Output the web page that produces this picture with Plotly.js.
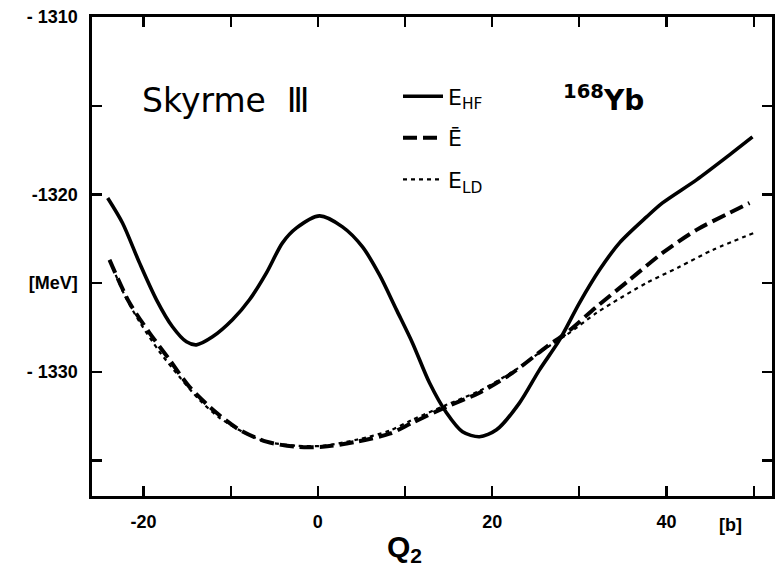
<!DOCTYPE html>
<html>
<head>
<meta charset="utf-8">
<script src="https://cdn.plot.ly/plotly-3.0.1.min.js"></script>
<style>
  html, body { margin: 0; padding: 0; background: #ffffff; }
  #chart { width: 775px; height: 569px; }
</style>
</head>
<body>
<div id="chart"></div>
<script>
// Quadrupole moment Q2 [b] and energies [MeV] for 168Yb, Skyrme III
const qHF = [-24.1, -22.4, -20.45, -18.5, -16.67, -15.06, -13.92, -12.08, -9.79, -7.84, -5.89, -4.05, -2.44, 0.2, 2.83, 5.13, 7.08, 9.03, 10.86, 12.81, 14.76, 16.6, 18.55, 20.5, 23.14, 25.43, 27.73, 30.02, 32.32, 34.61, 37.71, 39.54, 43.44, 47.23, 49.86];
const eHF = [-1320.2, -1321.61, -1323.86, -1325.94, -1327.46, -1328.31, -1328.48, -1328.03, -1327.07, -1325.94, -1324.42, -1322.73, -1321.89, -1321.21, -1321.83, -1322.96, -1324.54, -1326.51, -1328.37, -1330.62, -1332.31, -1333.38, -1333.66, -1333.27, -1331.75, -1329.89, -1328.2, -1326.11, -1324.25, -1322.73, -1321.27, -1320.48, -1319.18, -1317.77, -1316.76];

const qBar = [-23.89, -21.6, -19.31, -17.01, -14.72, -11.62, -8.98, -5.89, -2.44, 0.54, 4.44, 8.23, 10.86, 14.76, 18.55, 22.33, 26.23, 28.53, 31.97, 35.75, 39.54, 43.44, 47.23, 49.52];
const eBar = [-1323.69, -1326.11, -1327.8, -1329.32, -1330.85, -1332.31, -1333.27, -1333.94, -1334.23, -1334.23, -1333.94, -1333.49, -1332.87, -1331.97, -1331.18, -1330.06, -1328.59, -1327.8, -1326.34, -1324.82, -1323.3, -1322.0, -1321.04, -1320.48];

const qLD = [-23.89, -22.18, -20.45, -18.16, -15.87, -13.58, -11.28, -8.41, -5.89, -2.44, 0.54, 4.44, 8.23, 10.86, 14.76, 18.55, 22.33, 26.23, 28.53, 31.97, 33.81, 37.71, 41.5, 45.29, 50.34];
const eLD = [-1323.69, -1325.66, -1327.18, -1328.87, -1330.28, -1331.58, -1332.59, -1333.44, -1333.94, -1334.17, -1334.17, -1333.83, -1333.32, -1332.7, -1331.86, -1331.07, -1330.0, -1328.65, -1327.92, -1326.68, -1326.11, -1324.99, -1324.08, -1323.13, -1322.11];

const seriesNames = ["E<sub>HF</sub>", "Ē", "E<sub>LD</sub>"];

const xTickVals = [-20, 0, 20, 40];
const xTickText = ["-20", "0", "20", "40"];
const yTickVals = [-1330, -1325, -1320, -1310];
const yTickText = ["- 1330", "[MeV]", "-1320", "- 1310"];

const fontFam = "DejaVu Sans, Liberation Sans, sans-serif";

const traces = [
  { x: qHF, y: eHF, name: seriesNames[0], mode: "lines", legendgroup: "a",
    line: { color: "#000", width: 3.6, shape: "spline", smoothing: 0.8 } },
  { x: qBar, y: eBar, name: seriesNames[1], mode: "lines", legendgroup: "b",
    line: { color: "#000", width: 4, dash: "14px,6px", shape: "spline", smoothing: 0.8 } },
  { x: qLD, y: eLD, name: seriesNames[2], mode: "lines", legendgroup: "c",
    line: { color: "#000", width: 2.2, dash: "4px,4px", shape: "spline", smoothing: 0.8 } }
];

const axisCommon = {
  showgrid: false, zeroline: false, showline: true, linecolor: "#000", linewidth: 2.6,
  mirror: "ticks", ticks: "inside", ticklen: 10, tickwidth: 2.2, tickcolor: "#000",
  tickmode: "array",
  tickfont: { family: "Liberation Sans, Arial, sans-serif", size: 18, color: "#000", weight: "bold" }
};

const layout = {
  width: 775, height: 569,
  margin: { l: 92, r: 3, t: 17, b: 73 },
  paper_bgcolor: "#fff", plot_bgcolor: "#fff",
  showlegend: true,
  legend: {
    x: 0.45, y: 0.878, xanchor: "left", yanchor: "top",
    bgcolor: "rgba(0,0,0,0)", borderwidth: 0,
    font: { family: fontFam, size: 22, color: "#000" },
    tracegroupgap: 10, itemwidth: 40
  },
  xaxis: Object.assign({}, axisCommon, {
    range: [-25.9, 52.1], tickvals: xTickVals, ticktext: xTickText, ticklabelstandoff: 8,
    minor: { dtick: 10, tick0: 0, ticks: "inside", ticklen: 10, tickwidth: 2.2, tickcolor: "#000" }
  }),
  yaxis: Object.assign({}, axisCommon, {
    range: [-1337, -1310], tickvals: yTickVals, ticktext: yTickText, ticklabelstandoff: 8,
    minor: { dtick: 5, tick0: -1310, ticks: "inside", ticklen: 10, tickwidth: 2.2, tickcolor: "#000" }
  }),
  annotations: [
    { text: "Skyrme  Ⅲ", xref: "paper", yref: "paper", x: 0.07, y: 0.825, xanchor: "left", yanchor: "middle",
      showarrow: false, font: { family: fontFam, size: 33, color: "#000" } },
    { text: "<sup>168</sup>Yb", xref: "paper", yref: "paper", x: 0.69, y: 0.83, xanchor: "left", yanchor: "middle",
      showarrow: false, font: { family: fontFam, size: 28, color: "#000", weight: "bold" } },
    { text: "[b]", xref: "x", yref: "paper", x: 47.3, y: -0.035, xanchor: "center", yanchor: "top",
      showarrow: false, font: { family: "Liberation Sans, Arial, sans-serif", size: 18, color: "#000", weight: "bold" } },
    { text: "Q<sub>2</sub>", xref: "x", yref: "paper", x: 10, y: -0.11, xanchor: "center", yanchor: "middle",
      showarrow: false, font: { family: "Liberation Sans, Arial, sans-serif", size: 30, color: "#000", weight: "bold" } }
  ]
};

Plotly.newPlot("chart", traces, layout, { staticPlot: true, displayModeBar: false });
</script>
</body>
</html>
